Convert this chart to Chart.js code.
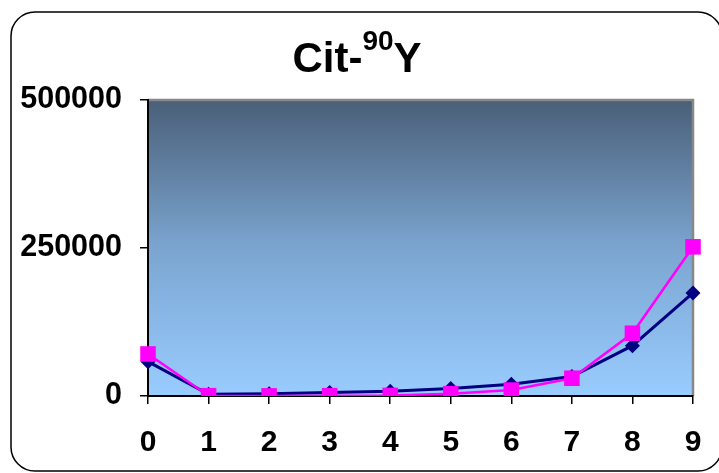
<!DOCTYPE html>
<html>
<head>
<meta charset="utf-8">
<script src="https://cdn.jsdelivr.net/npm/chart.js@4/dist/chart.umd.min.js"></script>
<style>
  html, body { margin: 0; padding: 0; background: #fff; }
  #wrap { width: 719px; height: 473px; position: relative; }
</style>
</head>
<body>
<div id="wrap"><canvas id="c" width="719" height="473"></canvas></div>
<script>
// Categories along the horizontal axis
const categories = ['0', '1', '2', '3', '4', '5', '6', '7', '8', '9'];
// Series values
const seriesDiamond = [58000, 3000, 4000, 6000, 8000, 12500, 20000, 33000, 85000, 174000];
const seriesSquare = [71000, 500, 200, 500, 1000, 4000, 10000, 30000, 106000, 252000];
// Value axis ticks
const yTicks = [0, 250000, 500000];

const FONT = '"Liberation Sans", Arial, sans-serif';

const decor = {
  id: 'decor',
  beforeDraw(chart) {
    const ctx = chart.ctx;
    const a = chart.chartArea;
    ctx.save();
    ctx.fillStyle = '#ffffff';
    ctx.fillRect(0, 0, chart.width, chart.height);

    // rounded outer frame
    const x0 = 11, y0 = 12, x1 = 722, y1 = 471, r = 24;
    ctx.beginPath();
    ctx.moveTo(x0 + r, y0);
    ctx.lineTo(x1 - r, y0);
    ctx.arcTo(x1, y0, x1, y0 + r, r);
    ctx.lineTo(x1, y1 - r);
    ctx.arcTo(x1, y1, x1 - r, y1, r);
    ctx.lineTo(x0 + r, y1);
    ctx.arcTo(x0, y1, x0, y1 - r, r);
    ctx.lineTo(x0, y0 + r);
    ctx.arcTo(x0, y0, x0 + r, y0, r);
    ctx.closePath();
    ctx.lineWidth = 1.5;
    ctx.strokeStyle = '#000';
    ctx.stroke();

    // plot area gradient
    const g = ctx.createLinearGradient(0, a.top, 0, a.bottom);
    g.addColorStop(0, '#4a5f78');
    g.addColorStop(0.5, '#7ba5d0');
    g.addColorStop(1, '#99ccff');
    ctx.fillStyle = g;
    ctx.fillRect(a.left, a.top, a.right - a.left, a.bottom - a.top);

    // grey edge on top and right of plot area
    ctx.strokeStyle = '#888888';
    ctx.lineWidth = 2.5;
    ctx.beginPath();
    ctx.moveTo(a.left, a.top);
    ctx.lineTo(a.right, a.top);
    ctx.lineTo(a.right, a.bottom);
    ctx.stroke();
    ctx.restore();
  },
  afterDraw(chart) {
    const ctx = chart.ctx;
    ctx.save();
    ctx.fillStyle = '#000';
    ctx.textBaseline = 'alphabetic';
    ctx.textAlign = 'left';
    const big = 'bold 42px ' + FONT;
    const small = 'bold 28px ' + FONT;
    ctx.font = big;
    const w1 = ctx.measureText('Cit-').width;
    const w3 = ctx.measureText('Y').width;
    ctx.font = small;
    const w2 = ctx.measureText('90').width;
    const total = w1 + w2 + w3;
    let x = 357 - total / 2;
    const base = 72;
    ctx.font = big;
    ctx.fillText('Cit-', x, base);
    x += w1;
    ctx.font = small;
    ctx.fillText('90', x, base - 22);
    x += w2;
    ctx.font = big;
    ctx.fillText('Y', x, base);
    ctx.restore();
  }
};

new Chart(document.getElementById('c'), {
  type: 'line',
  data: {
    labels: categories,
    datasets: [
      {
        data: seriesSquare,
        borderColor: '#ff00ff',
        backgroundColor: '#ff00ff',
        borderWidth: 2.5,
        pointStyle: 'rect',
        pointRadius: 11,
        pointBorderWidth: 0,
        tension: 0,
        order: 0
      },
      {
        data: seriesDiamond,
        borderColor: '#000080',
        backgroundColor: '#000080',
        borderWidth: 3,
        pointStyle: 'rectRot',
        pointRadius: 7.5,
        pointBorderWidth: 0,
        tension: 0,
        order: 1
      }
    ]
  },
  options: {
    responsive: false,
    animation: false,
    devicePixelRatio: 1,
    layout: { padding: { top: 100, right: 26, bottom: 0, left: 0 } },
    plugins: { legend: { display: false }, tooltip: { enabled: false } },
    scales: {
      x: {
        offset: false,
        grid: { drawOnChartArea: false, drawTicks: true, tickLength: 8, color: '#000', lineWidth: 1.5 },
        border: { display: true, color: '#000', width: 2 },
        ticks: { color: '#000', font: { family: FONT, size: 30, weight: 'bold' }, padding: 21, maxRotation: 0 },
        afterFit(s) { s.height = 473 - 396; s.paddingLeft = 0; s.paddingRight = 0; }
      },
      y: {
        min: 0,
        max: 500000,
        afterBuildTicks(s) { s.ticks = yTicks.map(v => ({ value: v })); },
        grid: { drawOnChartArea: false, drawTicks: true, tickLength: 8, color: '#000', lineWidth: 1.5 },
        border: { display: true, color: '#000', width: 2 },
        ticks: {
          color: '#000',
          font: { family: FONT, size: 30.5, weight: 'bold' },
          padding: 18,
          callback: v => String(v)
        },
        afterFit(s) { s.width = 148; s.paddingTop = 0; s.paddingBottom = 0; }
      }
    }
  },
  plugins: [decor]
});
</script>
</body>
</html>
